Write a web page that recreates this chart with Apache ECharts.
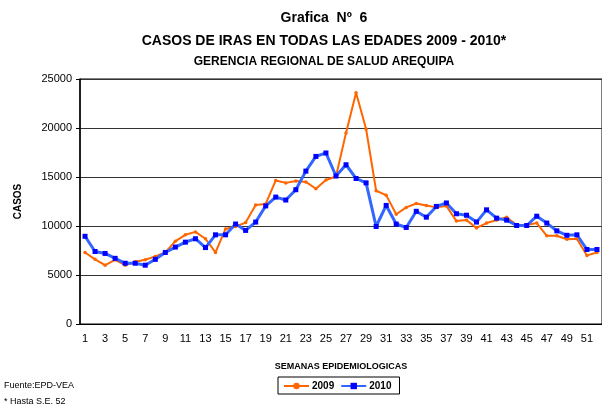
<!DOCTYPE html>
<html>
<head>
<meta charset="utf-8">
<script src="https://cdn.jsdelivr.net/npm/echarts@6/dist/echarts.min.js"></script>
<style>
  html, body { margin: 0; padding: 0; background: #fff; }
  #chart { width: 602px; height: 406px; }
</style>
</head>
<body>
<div id="chart"></div>
<script>
// semanas epidemiologicas 1..52
var semanas = [];
for (var i = 1; i <= 52; i++) semanas.push(String(i));

// casos 2009
var casos2009 = [7300, 6600, 6000, 6550, 6000, 6350, 6550, 6900, 7300, 8450,
  9100, 9400, 8700, 7300, 9700, 9950, 10350, 12150, 12250, 14650,
  14400, 14600, 14500, 13800, 14700, 15050, 19500, 23600, 19900, 13600,
  13150, 11200, 11900, 12300, 12100, 11900, 12050, 10500, 10600, 9800,
  10300, 10600, 10900, 10100, 10100, 10300, 9000, 9000, 8650, 8700,
  7000, 7300];

// casos 2010
var casos2010 = [8950, 7400, 7200, 6700, 6200, 6200, 6000, 6600, 7300, 7850,
  8350, 8700, 7800, 9100, 9100, 10200, 9550, 10400, 12050, 12950,
  12650, 13700, 15600, 17100, 17450, 15100, 16250, 14850, 14400, 9950,
  12100, 10200, 9850, 11500, 10900, 12000, 12350, 11250, 11100, 10400,
  11650, 10800, 10600, 10050, 10050, 11000, 10300, 9500, 9050, 9100,
  7600, 7600];

var chart = echarts.init(document.getElementById('chart'), null, { renderer: 'canvas' });

var font = 'Liberation Sans, Arial, sans-serif';

var option = {
  animation: false,
  backgroundColor: '#fff',
  textStyle: { fontFamily: font },
  title: [
    { text: 'Grafica  Nº  6', left: 319, top: 6, textAlign: 'center',
      textStyle: { fontSize: 14, fontWeight: 'bold', color: '#000', fontFamily: font } },
    { text: 'CASOS DE IRAS EN TODAS LAS EDADES 2009 - 2010*', left: 319, top: 29, textAlign: 'center',
      textStyle: { fontSize: 14, fontWeight: 'bold', color: '#000', fontFamily: font } },
    { text: 'GERENCIA REGIONAL DE SALUD AREQUIPA', left: 319, top: 51, textAlign: 'center',
      textStyle: { fontSize: 12, fontWeight: 'bold', color: '#000', fontFamily: font } }
  ],
  grid: {
    left: 80, top: 79, right: -8, bottom: 82,
    show: true, borderColor: '#000', borderWidth: 1
  },
  legend: {
    data: ['2009', '2010'],
    orient: 'horizontal',
    left: 278, top: 377,
    padding: [4, 8, 3, 5],
    itemGap: 6,
    itemWidth: 25, itemHeight: 8,
    borderColor: '#000', borderWidth: 1,
    textStyle: { fontSize: 10, fontWeight: 'bold', color: '#000', fontFamily: font, padding: [0, 0, 0, -2] }
  },
  xAxis: {
    type: 'category',
    data: semanas,
    boundaryGap: true,
    name: 'SEMANAS EPIDEMIOLOGICAS',
    nameLocation: 'middle',
    nameGap: 38,
    nameTextStyle: { fontSize: 9, fontWeight: 'bold', color: '#000', fontFamily: font },
    axisLine: { lineStyle: { color: '#000', width: 1 } },
    axisTick: { interval: 1, length: 5, lineStyle: { color: '#000' } },
    axisLabel: { interval: 1, fontSize: 11, color: '#000', margin: 9, fontFamily: font },
    splitLine: { show: false }
  },
  yAxis: {
    type: 'value',
    min: 0, max: 25000, interval: 5000,
    name: 'CASOS',
    nameLocation: 'middle',
    nameGap: 57,
    nameTextStyle: { fontSize: 10, fontWeight: 'bold', color: '#000', fontFamily: font },
    axisLine: { show: true, lineStyle: { color: '#000', width: 1.5 } },
    axisTick: { show: true, length: 4, lineStyle: { color: '#000' } },
    axisLabel: { fontSize: 11, color: '#000', margin: 8, fontFamily: font,
      formatter: function (v) { return String(v); } },
    splitLine: { show: true, lineStyle: { color: '#333', width: 1 } }
  },
  graphic: [
    { type: 'text', left: 4, top: 381,
      style: { text: 'Fuente:EPD-VEA', fontSize: 9, fill: '#000', fontFamily: font } },
    { type: 'text', left: 4, top: 397,
      style: { text: '* Hasta S.E. 52', fontSize: 9, fill: '#000', fontFamily: font } }
  ],
  series: [
    {
      name: '2009',
      type: 'line',
      data: casos2009,
      symbol: 'circle',
      symbolSize: 3.5,
      showAllSymbol: true,
      lineStyle: { color: '#FF6600', width: 2 },
      itemStyle: { color: '#FF6600' }
    },
    {
      name: '2010',
      type: 'line',
      data: casos2010,
      symbol: 'rect',
      symbolSize: 5,
      showAllSymbol: true,
      lineStyle: { color: '#3366FF', width: 3 },
      itemStyle: { color: '#0000FF' }
    }
  ]
};

chart.setOption(option);
</script>
</body>
</html>
